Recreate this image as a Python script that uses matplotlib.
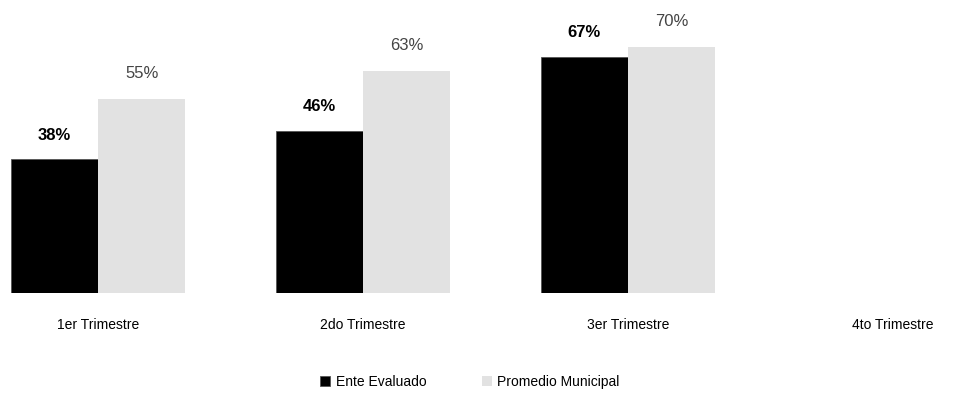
"""Quarterly comparison: Ente Evaluado vs Promedio Municipal."""
import matplotlib
matplotlib.use("Agg")
import matplotlib.pyplot as plt
import numpy as np

CATEGORIES = ["1er Trimestre", "2do Trimestre", "3er Trimestre", "4to Trimestre"]
ENTE = [38, 46, 67, None]
PROMEDIO = [55, 63, 70, None]
SERIES = ["Ente Evaluado", "Promedio Municipal"]

W, H = 958, 403
BAR_W = 0.33


def main():
    plt.rcParams["font.family"] = ["Liberation Sans", "DejaVu Sans"]
    fig = plt.figure(figsize=(W / 100, H / 100), dpi=100)
    # baseline at 110 px from bottom, ~3.52 px per percent
    ax = fig.add_axes([0, 110 / H, 1, 80 * 3.52 / H])

    x = np.arange(len(CATEGORIES))
    ente = np.array([np.nan if v is None else v for v in ENTE], dtype=float)
    prom = np.array([np.nan if v is None else v for v in PROMEDIO], dtype=float)

    b1 = ax.bar(x - BAR_W / 2, ente, BAR_W, color="black", edgecolor="#555555",
                linewidth=0.6, label=SERIES[0])
    b2 = ax.bar(x + BAR_W / 2, prom, BAR_W, color="#e2e2e2", label=SERIES[1])

    for xi, v in zip(x - BAR_W / 2, ente):
        if not np.isnan(v):
            ax.annotate(f"{v:.0f}%", (xi, v), xytext=(0, 12), textcoords="offset points",
                        ha="center", va="bottom", fontsize=12, fontweight="bold")
    for xi, v in zip(x + BAR_W / 2, prom):
        if not np.isnan(v):
            ax.annotate(f"{v:.0f}%", (xi, v), xytext=(0, 13), textcoords="offset points",
                        ha="center", va="bottom", fontsize=12, color="#444444")

    ax.set_xlim(-98 / 265, (W - 98) / 265)
    ax.set_ylim(0, 80)
    ax.set_xticks(x)
    ax.set_xticklabels(CATEGORIES, fontsize=10)
    ax.set_yticks([])
    ax.tick_params(axis="x", length=0, pad=18)
    for s in ax.spines.values():
        s.set_visible(False)

    fig.legend(handles=[b1, b2], labels=SERIES, loc="center",
               bbox_to_anchor=(470 / W, 21 / H), ncol=2, frameon=False,
               fontsize=10, handlelength=0.7, handleheight=0.7,
               columnspacing=4, handletextpad=0.4)

    fig.savefig("out.png", dpi=100)
    plt.close(fig)


if __name__ == "__main__":
    main()
